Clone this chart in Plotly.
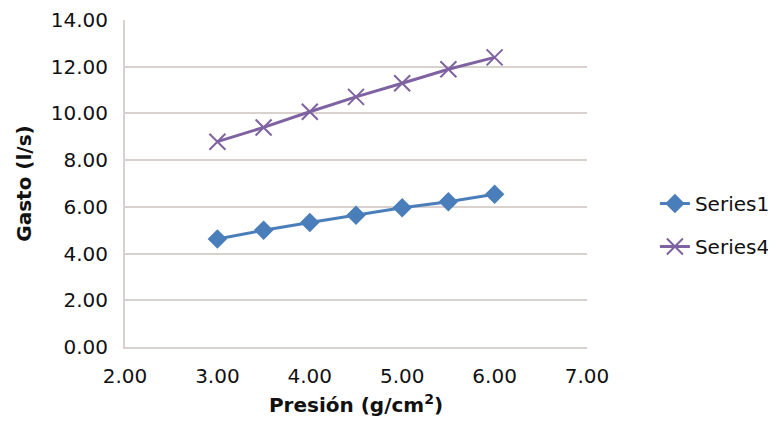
import plotly.graph_objects as go

presion = [3.0, 3.5, 4.0, 4.5, 5.0, 5.5, 6.0]
series1 = [4.62, 5.00, 5.33, 5.64, 5.96, 6.22, 6.54]
series4 = [8.79, 9.40, 10.07, 10.71, 11.29, 11.89, 12.40]
x_ticks = [2, 3, 4, 5, 6, 7]
y_ticks = [0, 2, 4, 6, 8, 10, 12, 14]

FONT = "DejaVu Sans"
GRID = "#D8D1CD"
fig = go.Figure()
fig.add_trace(go.Scatter(
    x=presion, y=series1, name="Series1", mode="lines+markers",
    line=dict(color="#4A7EBB", width=3),
    marker=dict(symbol="diamond", size=15, color="#4A7EBB"),
    legendgroup="a"))
fig.add_trace(go.Scatter(
    x=presion, y=series4, name="Series4", mode="lines+markers",
    line=dict(color="#7E62A1", width=3),
    marker=dict(symbol="x-thin", size=16, line=dict(color="#7E62A1", width=2)),
    legendgroup="b"))

fig.update_layout(
    width=776, height=430,
    margin=dict(l=117, r=197, t=12, b=91, autoexpand=False),
    paper_bgcolor="white", plot_bgcolor="white",
    font=dict(family=FONT, size=20, color="#111111"),
    legend=dict(x=1.147, y=0.373, xanchor="left", yanchor="middle",
                tracegroupgap=14, font=dict(size=20),
                bgcolor="rgba(0,0,0,0)"),
    xaxis=dict(range=[2, 7], tickvals=x_ticks,
               ticktext=[f"{v:.2f}" for v in x_ticks],
               showgrid=False, zeroline=False, automargin=False,
               showline=True, linecolor=GRID, linewidth=2,
               ticks="", ticklabelstandoff=10, tickfont=dict(size=20),
               title=dict(text="<b>Presión (g/cm<sup>2</sup>)</b>",
                          font=dict(size=20), standoff=11)),
    yaxis=dict(range=[0, 14], tickvals=y_ticks,
               ticktext=[f"{v:.2f}" for v in y_ticks],
               showgrid=True, gridcolor=GRID, gridwidth=2, automargin=False,
               zeroline=False, showline=True, linecolor=GRID, linewidth=2,
               ticks="", ticklabelstandoff=11, tickfont=dict(size=20),
               title=dict(text="<b>Gasto (l/s)</b>", font=dict(size=20), standoff=14)),
)
fig.write_html("out.html")
